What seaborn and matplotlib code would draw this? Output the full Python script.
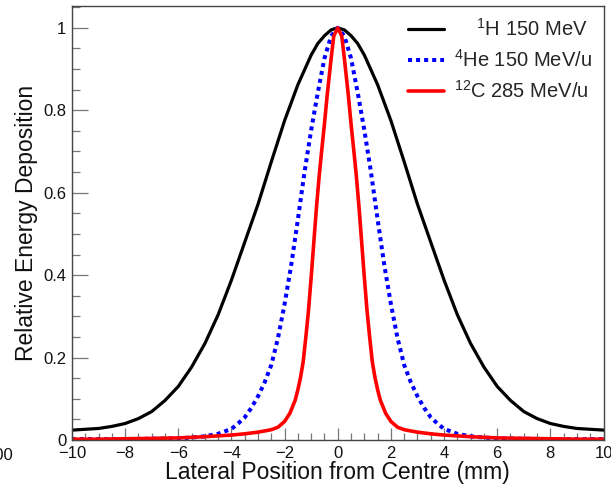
import matplotlib
matplotlib.use("Agg")
import matplotlib.pyplot as plt
import seaborn as sns
import pandas as pd
from matplotlib.ticker import MultipleLocator, FixedLocator, FixedFormatter

# ---------------- data ----------------
x_h = [-10, -9.5, -9, -8.5, -8, -7.5, -7, -6.5, -6, -5.5, -5, -4.5, -4, -3.5, -3, -2.5, -2, -1.5, -1,
       -0.75, -0.5, -0.25, 0, 0.25, 0.5, 0.75,
       1, 1.5, 2, 2.5, 3, 3.5, 4, 4.5, 5, 5.5, 6, 6.5, 7, 7.5, 8, 8.5, 9, 9.5, 10]
y_h = [0.024, 0.026, 0.028, 0.033, 0.040, 0.052, 0.069, 0.096, 0.130, 0.177, 0.234, 0.304, 0.388, 0.480,
       0.572, 0.675, 0.775, 0.862, 0.934, 0.962, 0.981, 0.995, 1.0, 0.995, 0.981, 0.962,
       0.934, 0.862, 0.775, 0.675, 0.572, 0.480, 0.388, 0.304, 0.234, 0.177, 0.130, 0.096,
       0.069, 0.052, 0.040, 0.033, 0.028, 0.026, 0.024]

x_he = [-10, -9, -8, -7, -6, -5.5, -5, -4.5, -4, -3.75, -3.5, -3.25, -3, -2.75, -2.5, -2.25, -2, -1.75,
        -1.5, -1.25, -1, -0.75, -0.5, -0.25, 0, 0.25, 0.5, 0.75, 1, 1.25, 1.5, 1.75, 2, 2.25, 2.5, 2.75,
        3, 3.25, 3.5, 3.75, 4, 4.5, 5, 5.5, 6, 7, 8, 9, 10]
y_he = [0.002, 0.002, 0.002, 0.003, 0.004, 0.006, 0.009, 0.015, 0.027, 0.040, 0.055, 0.078, 0.106, 0.140,
        0.182, 0.247, 0.330, 0.425, 0.535, 0.650, 0.752, 0.843, 0.926, 0.980, 1.0, 0.980, 0.926, 0.843,
        0.752, 0.650, 0.535, 0.425, 0.330, 0.247, 0.182, 0.140, 0.106, 0.078, 0.055, 0.040, 0.027, 0.015,
        0.009, 0.006, 0.004, 0.003, 0.002, 0.002, 0.002]

x_c = [-10, -9, -8, -7, -6, -5, -4, -3.5, -3, -2.5, -2.25, -2, -1.8, -1.6, -1.5, -1.4, -1.3, -1.2, -1.1,
       -1.0, -0.9, -0.8, -0.7, -0.6, -0.5, -0.4, -0.25, -0.15, 0, 0.15, 0.25, 0.4, 0.5, 0.6, 0.7, 0.8,
       0.9, 1.0, 1.1, 1.2, 1.3, 1.4, 1.5, 1.6, 1.8, 2, 2.25, 2.5, 3, 3.5, 4, 5, 6, 7, 8, 9, 10]
y_c = [0.002, 0.002, 0.003, 0.004, 0.005, 0.008, 0.012, 0.015, 0.019, 0.025, 0.031, 0.045, 0.065, 0.097,
       0.122, 0.152, 0.190, 0.250, 0.315, 0.395, 0.480, 0.565, 0.640, 0.705, 0.767, 0.835, 0.925, 0.980,
       1.0, 0.980, 0.925, 0.835, 0.767, 0.705, 0.640, 0.565, 0.480, 0.395, 0.315, 0.250, 0.190, 0.152,
       0.122, 0.097, 0.065, 0.045, 0.031, 0.025, 0.019, 0.015, 0.012, 0.008, 0.005, 0.004, 0.003, 0.002,
       0.002]

labels = ["    $^{1}$H 150 MeV", r"$^{4}$He 150 MeV/u", r"$^{12}$C 285 MeV/u"]
y_ticks = [0, 0.2, 0.4, 0.6, 0.8, 1.0]
y_tick_labels = ["0", "0.2", "0.4", "0.6", "0.8", "1"]
x_ticks = [-10, -8, -6, -4, -2, 0, 2, 4, 6, 8, 10]

# ---------------- style ----------------
sns.set_style("ticks")
plt.rcParams["font.family"] = ["Liberation Sans", "DejaVu Sans"]
plt.rcParams["mathtext.default"] = "regular"
plt.rcParams["axes.unicode_minus"] = True

fig = plt.figure(figsize=(6.11, 4.98), dpi=100)
ax = fig.add_axes([72 / 611, 58 / 498, (603.5 - 72) / 611, (440 - 6) / 498])

df_h = pd.DataFrame({"x": x_h, "y": y_h})
df_he = pd.DataFrame({"x": x_he, "y": y_he})
df_c = pd.DataFrame({"x": x_c, "y": y_c})

sns.lineplot(data=df_h, x="x", y="y", ax=ax, color="black", lw=2.3, label=labels[0],
             sort=False, estimator=None)
sns.lineplot(data=df_he, x="x", y="y", ax=ax, color="#0000ff", lw=2.9, label=labels[1],
             sort=False, estimator=None, dashes=False)
ax.lines[-1].set_linestyle((0, (1, 1)))
ax.lines[-1].set_dash_capstyle("butt")
sns.lineplot(data=df_c, x="x", y="y", ax=ax, color="#ff0000", lw=2.6, label=labels[2],
             sort=False, estimator=None)

ax.set_xlim(-10, 10)
ax.set_ylim(0, 1.053)

ax.yaxis.set_major_locator(FixedLocator(y_ticks))
ax.yaxis.set_major_formatter(FixedFormatter(y_tick_labels))
ax.yaxis.set_minor_locator(MultipleLocator(0.05))
ax.xaxis.set_major_locator(FixedLocator(x_ticks))
ax.xaxis.set_minor_locator(MultipleLocator(0.5))

ax.tick_params(axis="y", which="major", direction="in", length=11.3, width=0.9, color="#777777",
               labelsize=12, pad=4, labelcolor="#111111")
ax.tick_params(axis="y", which="minor", direction="in", length=5.5, width=0.9, color="#777777")
ax.tick_params(axis="x", which="major", direction="in", length=9.0, width=0.9, color="#777777",
               labelsize=12, pad=4, labelcolor="#111111")
ax.tick_params(axis="x", which="minor", direction="in", length=4.8, width=0.9, color="#777777")
ax.tick_params(top=False, right=False, which="both")

for s in ax.spines.values():
    s.set_visible(True)
    s.set_linewidth(1.0)
    s.set_color("#444444")

ax.set_xlabel("Lateral Position from Centre (mm)", fontsize=16.5, color="#111111", labelpad=0)
ax.set_ylabel("Relative Energy Deposition", fontsize=16.5, color="#111111", labelpad=4)

leg = ax.legend(loc="upper left", bbox_to_anchor=(0.632, 0.972), frameon=False, fontsize=14.5,
                handlelength=1.8, handletextpad=0.5, labelspacing=0.45, borderpad=0.0,
                borderaxespad=0.0)

fig.text(13.5 / 611, 1 - 456 / 498, "100", ha="right", va="center", fontsize=12, color="#111111")

fig.savefig("out.png", dpi=100)
